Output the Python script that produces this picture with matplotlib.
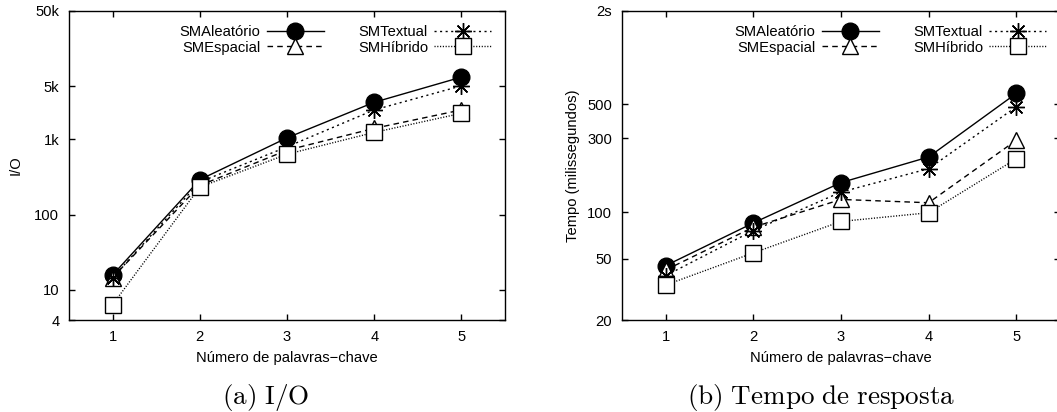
import matplotlib
matplotlib.use("Agg")
import matplotlib.pyplot as plt
from matplotlib.ticker import FixedLocator, FixedFormatter, NullLocator

plt.rcParams['font.family'] = ['Liberation Sans', 'DejaVu Sans']
plt.rcParams['mathtext.fontset'] = 'cm'

# dados
x = [1, 2, 3, 4, 5]
series = ["SMAleatório", "SMEspacial", "SMTextual", "SMHíbrido"]

io_aleatorio = [15.8, 290, 1040, 3080, 6640]
io_espacial = [14.6, 243, 713, 1390, 2440]
io_textual = [14.6, 270, 790, 2440, 5090]
io_hibrido = [6.4, 231, 631, 1228, 2200]

tempo_aleatorio = [45, 85, 155, 227, 585]
tempo_espacial = [42.2, 79.8, 120.6, 114.8, 291]
tempo_textual = [38.8, 75.9, 134.6, 190.7, 479]
tempo_hibrido = [33.7, 54.4, 86.9, 98.9, 221]

io_ticks = [4, 10, 100, 1000, 5000, 50000]
io_ticklabels = ["4", "10", "100", "1k", "5k", "50k"]
tempo_ticks = [20, 50, 100, 300, 500, 2000]
tempo_ticklabels = ["20", "50", "100", "300", "500", "2s"]

# estilos: (linestyle, marker, markersize, facecolor)
styles = [
    ("-", "o", 12, "black"),
    ((0, (4, 3)), "^", 11, "white"),
    ((0, (1.5, 2.5)), (8, 2, 0), 12, "black"),
    ((0, (0.8, 1.2)), "s", 11, "white"),
]

FS = 10.6
W, H = 1057, 412
fig = plt.figure(figsize=(W / 100, H / 100), dpi=100)
axL = fig.add_axes([69 / W, (H - 320) / H, (505 - 69) / W, (320 - 11) / H])
axR = fig.add_axes([622 / W, (H - 320) / H, (1060 - 622) / W, (320 - 11) / H])


def draw(ax, ys, ticks, ticklabels, ylabel, labelx):
    for name, y, (ls, mk, ms, fc) in zip(series, ys, styles):
        ax.plot(x, y, linestyle=ls, marker=mk, markersize=ms, color="black",
                markerfacecolor=fc, markeredgecolor="black", markeredgewidth=1.0,
                lw=1.0, label=name)
    ax.set_yscale("log")
    ax.set_xlim(0.5, 5.5)
    ax.set_ylim(ticks[0], ticks[-1])
    ax.yaxis.set_major_locator(FixedLocator(ticks))
    ax.yaxis.set_major_formatter(FixedFormatter(ticklabels))
    ax.yaxis.set_minor_locator(NullLocator())
    ax.set_xticks(x)
    ax.tick_params(direction="in", length=4, width=1, top=True, right=True,
                   labelsize=FS, pad=7)
    for s in ax.spines.values():
        s.set_linewidth(1.0)
    ax.set_xlabel("Número de palavras−chave", fontsize=FS, labelpad=5)
    ax.set_ylabel(ylabel, fontsize=FS)
    ax.yaxis.set_label_coords(labelx, 0.5)
    ax.legend(ncol=2, loc="upper right", frameon=False, markerfirst=False,
              fontsize=FS, handlelength=3.9, handletextpad=0.4,
              columnspacing=2.3, labelspacing=0.1,
              bbox_to_anchor=(0.999, 0.997))


draw(axL, [io_aleatorio, io_espacial, io_textual, io_hibrido],
     io_ticks, io_ticklabels, "I/O", -46 / 436)
draw(axR, [tempo_aleatorio, tempo_espacial, tempo_textual, tempo_hibrido],
     tempo_ticks, tempo_ticklabels, "Tempo (milissegundos)", -42 / 438)

fig.text(266 / W, 1 - 404 / H, r"$\mathrm{(a)\ I/O}$", fontsize=19.5,
         ha="center", va="baseline")
fig.text(821 / W, 1 - 404 / H, r"$\mathrm{(b)\ Tempo\ de\ resposta}$",
         fontsize=19.5, ha="center", va="baseline")

fig.savefig("out.png", dpi=100)
